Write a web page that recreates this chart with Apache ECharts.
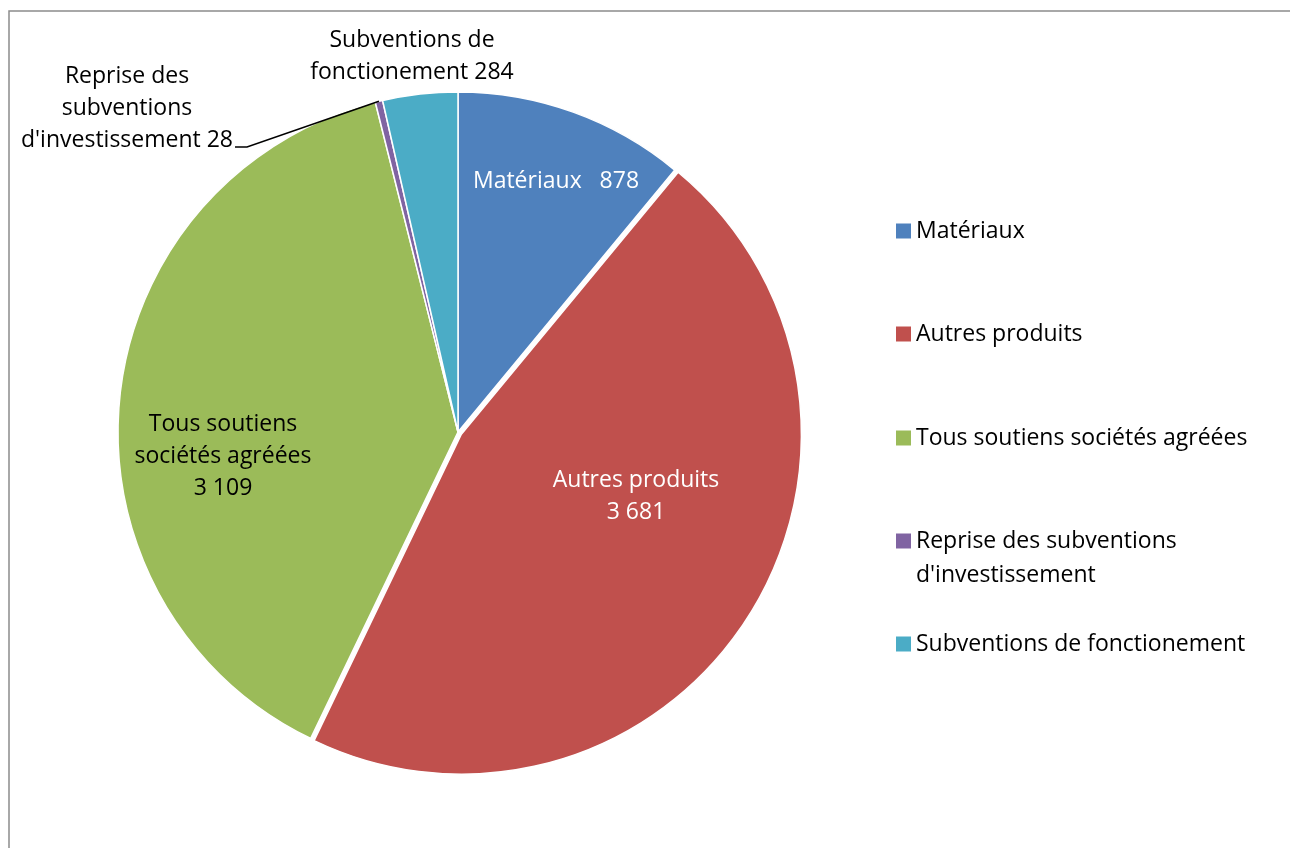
<!DOCTYPE html>
<html>
<head>
<meta charset="utf-8">
<script src="https://cdn.jsdelivr.net/npm/echarts@6/dist/echarts.min.js"></script>
<style>
  html, body { margin: 0; padding: 0; background: #fff; }
  #chart { width: 1290px; height: 848px; }
</style>
</head>
<body>
<div id="chart"></div>
<script>
// data
const categories = ['Matériaux', 'Autres produits', 'Tous soutiens sociétés agréées', "Reprise des subventions d'investissement", 'Subventions de fonctionement']
const values = [878, 3681, 3109, 28, 284]
const sliceLabels = ['Matériaux   ', 'Autres produits\n', 'Tous soutiens\nsociétés agréées\n', "Reprise des\nsubventions\nd'investissement ", 'Subventions de\nfonctionement ']
const legendLabels = ['Matériaux', 'Autres produits', 'Tous soutiens sociétés agréées', "\nReprise des subventions\nd'investissement", 'Subventions de fonctionement']

const colors = ['#4F81BD', '#C0504D', '#9BBB59', '#8064A2', '#4BACC6']
const FONT = 'Open Sans'
const FONT_SIZE = 23
const CX = 458
const CY = 432
const R = 340
// label centres relative to pie centre
const labelOffsets = [[98, -251], [178, 64], [-235, 24], [-331, -324], [-46, -376]]
const labelColors = ['#fff', '#fff', '#000', '#000', '#000']
const legendTops = [214, 317, 421, 490, 627]

const fmt = (v) => String(v).replace(/\B(?=(\d{3})+(?!\d))/g, ' ')

const total = values.reduce((a, b) => a + b, 0)
// mid angle of a slice, clockwise from 12 o'clock
const midAngle = (i) => {
  let before = 0
  for (let k = 0; k < i; k++) before += values[k]
  return (before + values[i] / 2) / total * Math.PI * 2
}

// slices (Autres produits pulled out a little)
const sliceData = categories.map((name, i) => ({
  name: name,
  value: values[i],
  selected: i === 1,
  itemStyle: { color: colors[i] }
}))

// same slices, invisible, only carrying the labels
const labelData = categories.map((name, i) => ({
  name: name,
  value: values[i],
  label: {
    position: i >= 3 ? 'outside' : 'inside',
    color: labelColors[i],
    formatter: sliceLabels[i] + fmt(values[i])
  },
  labelLine: { show: i === 3, showAbove: true, lineStyle: { color: '#000', width: 1.5 } }
}))

const legends = categories.map((name, i) => ({
  data: [name],
  orient: 'vertical',
  left: 896,
  top: legendTops[i],
  padding: 0,
  itemWidth: 15,
  itemHeight: 15,
  itemGap: 5,
  icon: 'rect',
  selectedMode: false,
  itemStyle: { borderWidth: 0 },
  formatter: () => legendLabels[i],
  textStyle: { fontFamily: FONT, fontSize: FONT_SIZE, color: '#000', lineHeight: 34 }
}))

const option = {
  animation: false,
  backgroundColor: '#fff',
  graphic: [{
    type: 'rect',
    shape: { x: 9, y: 11, width: 2000, height: 2000 },
    style: { fill: 'none', stroke: '#8c8c8c', lineWidth: 1.5 },
    silent: true
  }],
  legend: legends,
  series: [{
    type: 'pie',
    center: [CX, CY],
    radius: R,
    startAngle: 90,
    clockwise: true,
    selectedMode: 'single',
    selectedOffset: 4,
    itemStyle: { borderColor: '#fff', borderWidth: 1.5 },
    label: { show: false },
    labelLine: { show: false },
    emphasis: { disabled: true },
    select: { itemStyle: { color: colors[1] } },
    data: sliceData
  }, {
    type: 'pie',
    z: 5,
    silent: true,
    center: [CX, CY],
    radius: R,
    startAngle: 90,
    clockwise: true,
    avoidLabelOverlap: false,
    itemStyle: { color: 'rgba(0,0,0,0)', borderWidth: 0 },
    label: { fontFamily: FONT, fontSize: FONT_SIZE, lineHeight: 32, align: 'center' },
    labelLayout: (params) => {
      const i = params.dataIndex
      const off = labelOffsets[i]
      const x = CX + off[0]
      const y = CY + off[1]
      const res = { x: x, y: y, align: 'center', verticalAlign: 'middle' }
      if (i === 3) {
        // leader line meets the label at the foot of its last line
        const a = midAngle(i)
        const edge = [CX + R * Math.sin(a), CY - R * Math.cos(a)]
        const right = x + params.labelRect.width / 2
        const ly = y + 39
        res.labelLinePoints = [edge, [right + 14, ly], [right + 2, ly]]
      }
      return res
    },
    emphasis: { disabled: true },
    data: labelData
  }]
}

const chart = echarts.init(document.getElementById('chart'))
chart.setOption(option)
</script>
</body>
</html>
